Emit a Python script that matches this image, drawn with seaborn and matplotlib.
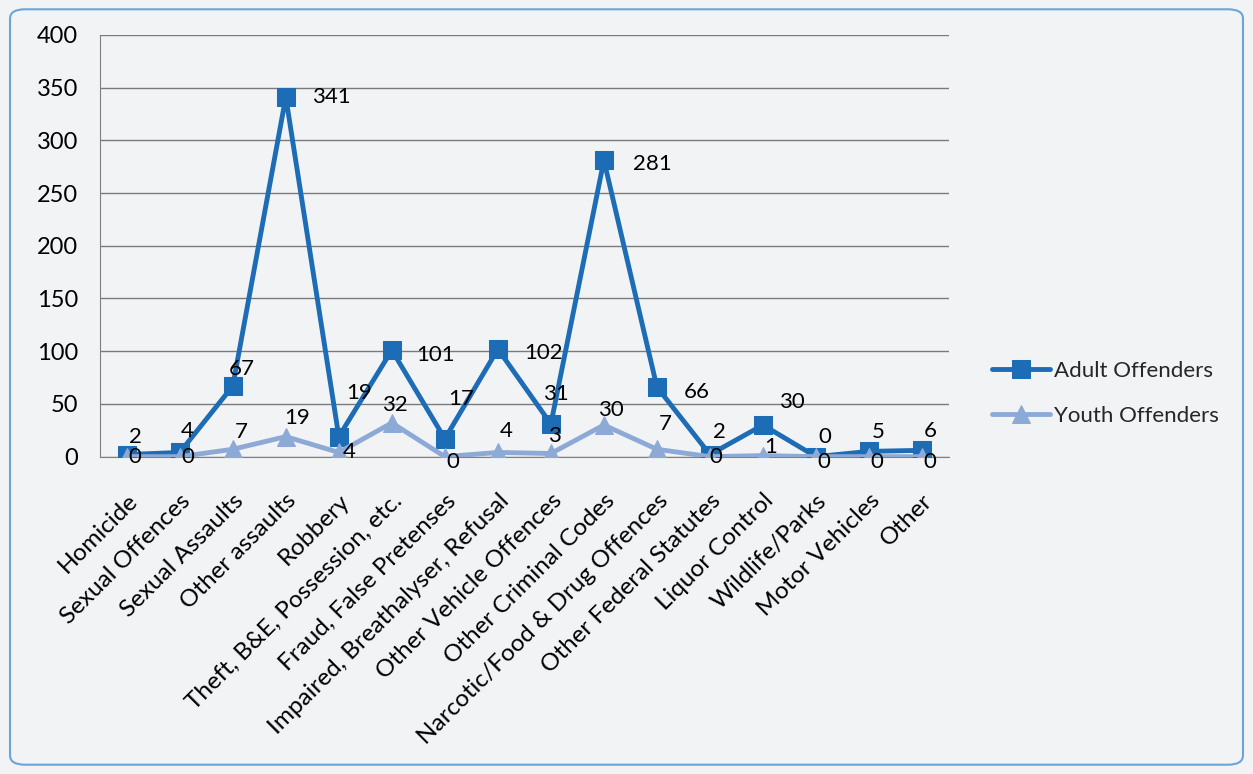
import numpy as np
import pandas as pd
import matplotlib.pyplot as plt
from matplotlib.patches import FancyBboxPatch
import seaborn as sns

# ── data ────────────────────────────────────────────────────
categories = ['Homicide', 'Sexual Offences', 'Sexual Assaults', 'Other assaults',
              'Robbery', 'Theft, B&E, Possession, etc.', 'Fraud, False Pretenses',
              'Impaired, Breathalyser, Refusal', 'Other Vehicle Offences',
              'Other Criminal Codes', 'Narcotic/Food & Drug Offences',
              'Other Federal Statutes', 'Liquor Control', 'Wildlife/Parks',
              'Motor Vehicles', 'Other']
adult = [2, 4, 67, 341, 19, 101, 17, 102, 31, 281, 66, 2, 30, 0, 5, 6]
youth = [0, 0, 7, 19, 4, 32, 0, 4, 3, 30, 7, 0, 1, 0, 0, 0]
y_ticks = [0, 50, 100, 150, 200, 250, 300, 350, 400]

# data-label offsets in pixels (dx, dy up), as placed in the original
adult_lbl_off = [(9, 18), (7, 21), (9, 17), (46, 0), (20, 44), (44, -5), (16, 40), (46, -4),
                 (5, 30), (48, -4), (40, -5), (9, 23), (29, 23), (9, 20), (9, 19), (8, 19)]
youth_lbl_off = [(8, 0), (8, 0), (8, 17), (11, 19), (10, 0), (3, 18), (8, -5), (8, 21),
                 (4, 17), (7, 15), (8, 25), (6, 0), (8, 9), (8, -5), (8, -5), (8, -5)]

adult_color = '#1c6cb6'
youth_color = '#8daad6'
bg = '#f2f3f5'

sns.set_style('white')
plt.rcParams['font.family'] = ['Lato', 'DejaVu Sans']

df = pd.DataFrame({'idx': np.arange(len(categories)), 'Adult Offenders': adult,
                   'Youth Offenders': youth})

fig = plt.figure(figsize=(12.53, 7.74), dpi=100, facecolor=bg)
ax = fig.add_axes([0.080, 0.410, 0.677, 0.545])
ax.set_facecolor(bg)

# rounded frame around the chart
frame = FancyBboxPatch((0.008, 0.012), 0.984, 0.976, boxstyle='round,pad=0,rounding_size=0.012',
                       transform=fig.transFigure, fill=False, edgecolor='#6aa5d8', linewidth=1.5)
fig.patches.append(frame)

sns.lineplot(data=df, x='idx', y='Adult Offenders', ax=ax, color=adult_color, lw=3.5,
             marker='s', markersize=13, markeredgecolor=adult_color, label='Adult Offenders', zorder=3)
sns.lineplot(data=df, x='idx', y='Youth Offenders', ax=ax, color=youth_color, lw=3.5,
             marker='^', markersize=13, markeredgecolor=youth_color, label='Youth Offenders', zorder=4)

# data labels
for i, v in enumerate(adult):
    dx, dy = adult_lbl_off[i]
    ax.annotate(str(v), (i, v), xytext=(dx, dy), textcoords='offset pixels',
                ha='center', va='center', fontsize=16, color='#000000', zorder=5)
for i, v in enumerate(youth):
    dx, dy = youth_lbl_off[i]
    ax.annotate(str(v), (i, v), xytext=(dx, dy), textcoords='offset pixels',
                ha='center', va='center', fontsize=16, color='#000000', zorder=5)

ax.set_xlim(-0.5, len(categories) - 0.5)
ax.set_ylim(0, 400)
ax.set_yticks(y_ticks)
ax.set_xticks(np.arange(len(categories)))
ax.set_xticklabels(categories, rotation=45, ha='right', rotation_mode='anchor', fontsize=17.5)
ax.tick_params(axis='y', labelsize=17, length=0, pad=16, labelcolor='#000000')
ax.tick_params(axis='x', length=0, pad=24, labelcolor='#000000')
ax.set_xlabel('')
ax.set_ylabel('')
ax.grid(axis='y', color='#7a7a7a', lw=1)
ax.set_axisbelow(True)
for s in ['top', 'right']:
    ax.spines[s].set_visible(False)
ax.spines['left'].set_color('#808080')
ax.spines['bottom'].set_color('#808080')

ax.legend(loc='center left', bbox_to_anchor=(1.028, 0.15), frameon=False, fontsize=16,
          handlelength=2.6, labelspacing=1.1, handletextpad=0.2)

fig.savefig('out.png', dpi=100, facecolor=bg)
